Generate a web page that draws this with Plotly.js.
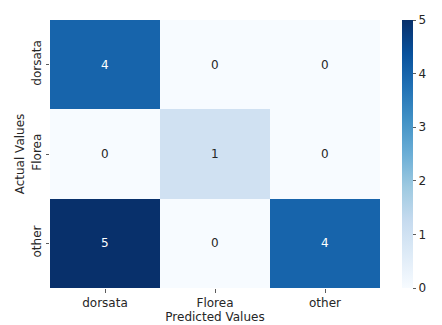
<!DOCTYPE html>
<html><head><meta charset="utf-8">
<script src="https://cdn.plot.ly/plotly-3.0.1.min.js"></script>
<style>html,body{margin:0;padding:0;background:#fff;}#chart{width:442px;height:325px;}</style>
</head><body><div id="chart"></div>
<script>
const predictedLabels = ["dorsata", "Florea", "other"];
const actualLabels = ["dorsata", "Florea", "other"];
const counts = [
  [4, 0, 0],
  [0, 1, 0],
  [5, 0, 4]
];
const colorTicks = [0, 1, 2, 3, 4, 5];

const blues = [
  [0, "#f7fbff"], [0.125, "#deebf7"], [0.25, "#c6dbef"], [0.375, "#9ecae1"],
  [0.5, "#6baed6"], [0.625, "#4292c6"], [0.75, "#2171b5"], [0.875, "#08519c"], [1, "#08306b"]
];
const font = "DejaVu Sans, sans-serif";
const fs = 12;
const zmax = 5;

const annotations = [];
actualLabels.forEach((a, i) => {
  predictedLabels.forEach((p, j) => {
    const v = counts[i][j];
    annotations.push({
      x: p, y: a, xref: "x", yref: "y", text: String(v), showarrow: false,
      font: {family: font, size: fs, color: v / zmax > 0.5 ? "#ffffff" : "#262626"}
    });
  });
});

const trace = {
  type: "heatmap",
  x: predictedLabels, y: actualLabels, z: counts,
  zmin: 0, zmax: zmax, colorscale: blues, xgap: 0, ygap: 0,
  hoverinfo: "none",
  colorbar: {
    x: 1.067, xanchor: "left", xref: "paper", thickness: 11, len: 1, lenmode: "fraction",
    y: 0.5, yanchor: "middle", outlinewidth: 0, xpad: 0, ypad: 0,
    tickvals: colorTicks, ticks: "outside", ticklen: 3.5, tickwidth: 0.8, tickcolor: "#333",
    tickfont: {family: font, size: fs, color: "#262626"}
  }
};

const layout = {
  width: 442, height: 325,
  margin: {l: 50, r: 62, t: 20, b: 37, autoexpand: false},
  paper_bgcolor: "#fff", plot_bgcolor: "#fff",
  font: {family: font, color: "#262626"},
  xaxis: {
    type: "category", showgrid: false, zeroline: false, ticks: "outside", ticklen: 3.5,
    tickwidth: 0.8, tickcolor: "#333",
    tickfont: {family: font, size: fs, color: "#262626"},
    title: {text: "Predicted Values", font: {family: font, size: fs, color: "#262626"}, standoff: 2}
  },
  yaxis: {
    type: "category", autorange: "reversed", showgrid: false, zeroline: false, ticks: "outside",
    ticklen: 3.5, tickwidth: 0.8, tickcolor: "#333", tickangle: -90,
    tickfont: {family: font, size: fs, color: "#262626"},
    title: {text: "Actual Values", font: {family: font, size: fs, color: "#262626"}, standoff: 2}
  },
  annotations: annotations
};

Plotly.newPlot("chart", [trace], layout, {staticPlot: true, displayModeBar: false});
</script>
</body></html>
